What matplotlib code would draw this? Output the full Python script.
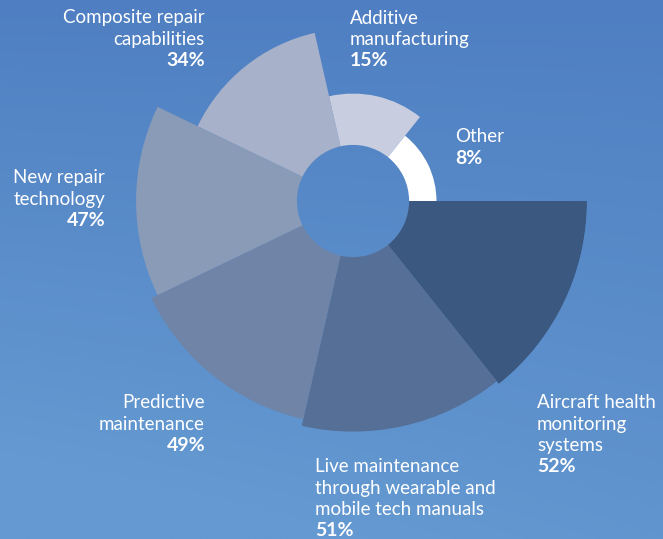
import numpy as np
import matplotlib
matplotlib.use("Agg")
from matplotlib import pyplot as plt

# survey data, clockwise from 3 o'clock
names = ["Aircraft health\nmonitoring\nsystems",
         "Live maintenance\nthrough wearable and\nmobile tech manuals",
         "Predictive\nmaintenance",
         "New repair\ntechnology",
         "Composite repair\ncapabilities",
         "Additive\nmanufacturing",
         "Other"]
values = [52, 51, 49, 47, 34, 15, 8]
colors = ["#3b5880", "#566f96", "#6f84a6", "#8a9bb8", "#a7b1c9", "#c8cde0", "#ffffff"]

W, H = 663, 539
hole = 16.4

fig = plt.figure(figsize=(W / 100, H / 100), dpi=100)

# background gradient
bg = fig.add_axes([0, 0, 1, 1])
yy, xx = np.mgrid[0:1:200j, 0:1:200j]
t = np.clip(yy * 0.85 + (1 - xx) * yy * 0.35, 0, 1)
top = np.array([0x4f, 0x7f, 0xc2]) / 255
bot = np.array([0x64, 0x99, 0xd1]) / 255
img = top[None, None, :] * (1 - t[..., None]) + bot[None, None, :] * t[..., None]
bg.imshow(img, extent=[0, 1, 0, 1], aspect="auto", origin="upper")
bg.axis("off")

# polar chart: centre (353, 201) px, outer radius 234 px
cx, cy, R = 353, 201, 234
ax = fig.add_axes([(cx - R) / W, (H - cy - R) / H, 2 * R / W, 2 * R / H],
                  projection="polar")
ax.patch.set_alpha(0)
ax.set_theta_zero_location("E")
ax.set_theta_direction(-1)
n = len(values)
width = 2 * np.pi / n
theta = (np.arange(n) + 0.5) * width
ax.bar(theta, values, width=width, bottom=hole, color=colors, linewidth=0)
ax.set_ylim(0, hole + max(values))
ax.axis("off")

# labels: (x px, top-line y px, alignment)
label_pos = [(537, 403, "left"), (315, 467, "left"), (205, 403, "right"),
             (105, 178, "right"), (205, 18, "right"), (350, 18, "left"),
             (455, 137, "left")]
step = 21.3
for name, v, (x, y, ha) in zip(names, values, label_pos):
    lines = name.split("\n")
    for i, ln in enumerate(lines):
        fig.text(x / W, 1 - (y + i * step) / H, ln, ha=ha, va="center",
                 color="white", fontsize=13.5, family="Lato", fontweight="normal")
    fig.text(x / W, 1 - (y + len(lines) * step) / H, f"{v}%", ha=ha, va="center",
             color="white", fontsize=14, family="Lato", fontweight="bold")

fig.savefig("out.png", dpi=100)
